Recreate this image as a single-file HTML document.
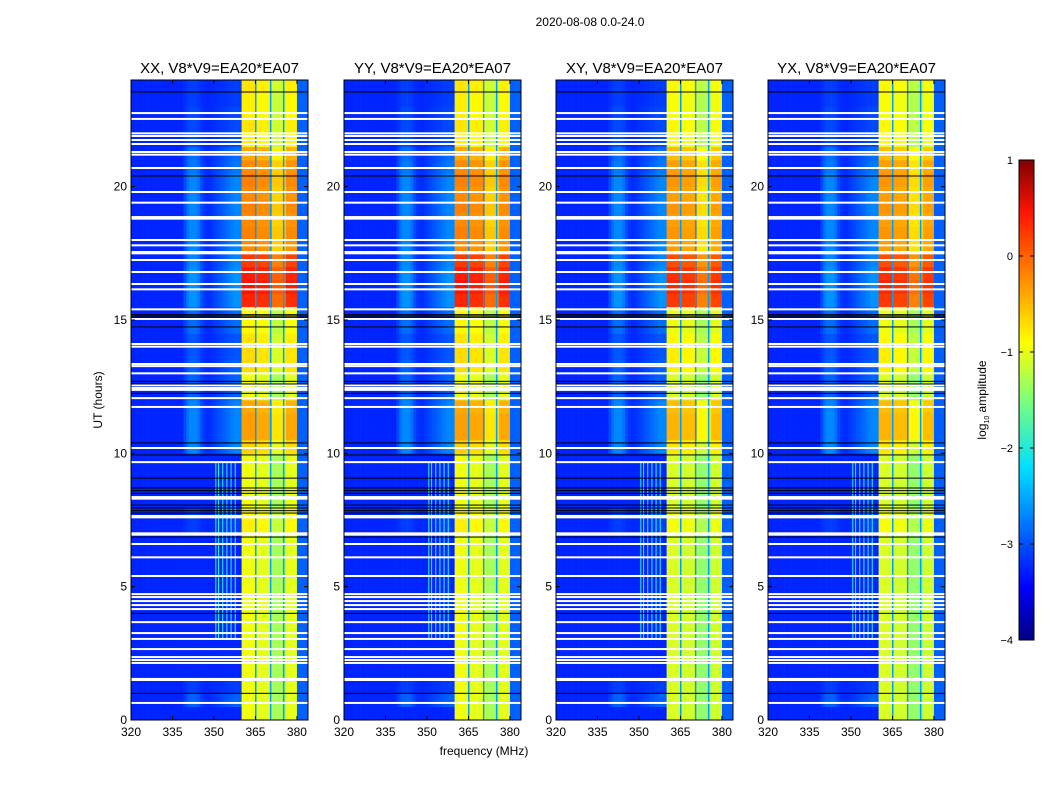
<!DOCTYPE html>
<html><head><meta charset="utf-8">
<style>
body{margin:0;background:#fff;}
svg text{font-family:"Liberation Sans",sans-serif;fill:#000;}
</style></head>
<body>
<svg id="fig" width="1050" height="800" xmlns="http://www.w3.org/2000/svg">
<defs>
<linearGradient id="jet" x1="0" y1="1" x2="0" y2="0">
<stop offset="0" stop-color="#000080"/><stop offset="0.11" stop-color="#0000ff"/>
<stop offset="0.36" stop-color="#00e0ff"/><stop offset="0.5" stop-color="#7dff7a"/>
<stop offset="0.62" stop-color="#ffff00"/><stop offset="0.89" stop-color="#ff1400"/>
<stop offset="1" stop-color="#800000"/>
</linearGradient>
</defs>
<text x="590" y="26" font-size="12" text-anchor="middle">2020-08-08 0.0-24.0</text>
<text x="484" y="755" font-size="12" text-anchor="middle">frequency (MHz)</text>
<text transform="translate(102,400) rotate(-90)" font-size="12" text-anchor="middle">UT (hours)</text>
<g id="panels"></g>
<g>
<rect x="1019" y="160" width="15" height="480" fill="url(#jet)" stroke="#000" stroke-width="1"/>
<g id="cbticks"></g>
<text transform="translate(986,400) rotate(-90)" font-size="12" text-anchor="middle">log<tspan font-size="7" dy="3">10</tspan><tspan dy="-3"> amplitude</tspan></text>
</g>
</svg>
<script>
// ---- data ----
const panelTitles=["XX, V8*V9=EA20*EA07","YY, V8*V9=EA20*EA07","XY, V8*V9=EA20*EA07","YX, V8*V9=EA20*EA07"];
const xTicks=[320,335,350,365,380];
const yTicks=[0,5,10,15,20];
const cbTicks=[1,0,-1,-2,-3,-4];
const freqStart=320, freqStep=1, nFreq=64;
const hourStep=0.5;
const bandRow=[-1.0,-1.0,-1.0,-1.0,-1.0,-1.0,-1.0,-1.0,-1.0,-1.0,-1.0,-1.0,-1.0,-1.0,-0.85,-0.9,-1.0,-1.0,-1.0,-1.0,
 -0.7,-0.45,-0.45,-0.5,-1.0,-1.0,-0.75,-0.75,-0.8,-0.9,-0.9,0.15,0.25,0.2,0.05,-0.35,-0.3,-0.35,-0.3,-0.35,-0.3,-0.35,-0.5,-0.85,-0.8,-0.85,-0.85,-0.8];
const bgRow=[0,0.5,0.2,0,0,0,0,0,0,0,0,0,0,0,0.2,0.2,0,0,0,0,0.8,0.8,0.8,0.8,0.5,0.5,0.5,0.4,0.4,0.6,0.6,0.9,0.9,0.9,0.8,0.8,0.8,0.8,0.8,0.8,0.8,0.7,0.6,0.3,0.3,0.3,0.2,0.2];
// offsets for 360..383 MHz channels (380+ is background)
const bandOffset=[0.05,0.05,0.05,0.05,0.05,0,0,0,0,0,0,-0.3,-0.3,-0.3,-0.3,-0.3,0,0,0,0,-2.2,-2.2,-2.2,-2.2];
const bandGapFreqs=[365.1,370.5,375.2];
const bandGapLevel=-2.6;
const bgBump=[0,0,0,0,0,0,0,0,0,0,0,0,0,0,0,0,0,0,0,0.4,0.8,1,1,1,0.8,0.4,0.2,0.1,0.1,0.2,0.3,0.4,0.5,0.6,0.7,0.8,0.9,1,1,1];
const bgLevel=-3.2, bgGain=0.6;
const spurFreqs=[350.5,351.5,353,354.5,356,357.5];
const spurLevel=-1.9, spurFrom=3, spurTo=9.7;
const whiteFlags=[0.64,1.54,1.5,2.14,2.25,2.36,2.66,3.04,3.26,3.67,4.16,4.31,4.46,4.61,4.72,5.4,6.1,6.6,7.0,6.95,7.65,7.6,8.36,8.3,9.67,10.2,11.74,12.07,12.38,12.45,12.55,13.0,13.27,13.35,14.0,14.1,15.04,15.4,16.15,16.35,16.8,17.25,17.5,17.55,17.8,18.0,18.8,18.86,19.4,19.8,20.7,21.2,21.3,21.6,21.75,21.9,22.0,22.54,22.76];
const blackFlags=[1.0,4.0,6.86,7.76,7.85,7.95,8.06,8.5,8.6,8.7,9.07,9.94,10.39,12.25,12.6,12.7,14.74,15.1,15.15,15.2,20.4,23.55];
// ---- layout ----
const panelX=[131,344,556,768], pw=177, yTop=80, yBot=720;
const fMin=320,fMax=384,hMax=24;
const NS="http://www.w3.org/2000/svg";
function jet(v){let t=(v+4)/5;t=Math.max(0,Math.min(1,t));
 const r=Math.max(0,Math.min(1,1.5-Math.abs(4*t-3))),g=Math.max(0,Math.min(1,1.5-Math.abs(4*t-2))),b=Math.max(0,Math.min(1,1.5-Math.abs(4*t-1)));
 return `rgb(${Math.round(r*255)},${Math.round(g*255)},${Math.round(b*255)})`;}
function mk(tag,attrs,parent){const e=document.createElementNS(NS,tag);for(const k in attrs)e.setAttribute(k,attrs[k]);parent.appendChild(e);return e;}
const root=document.getElementById('panels');
panelTitles.forEach((title,p)=>{
 const x0=panelX[p];
 const xs=f=>x0+(f-fMin)/(fMax-fMin)*pw;
 const ys=h=>yBot-h/hMax*(yBot-yTop);
 const g=mk('g',{},root);
 
 
 for(let t=0;t<bandRow.length;t++){
  for(let i=0;i<nFreq;i++){
   const f=freqStart+i*freqStep;
   let v;
   if(f>=380) v=bgLevel+0.3;
   else if(f>=360) v=bandRow[t]+bandOffset[i-40]-(p>=2?0.1:0);
   else v=bgLevel+bgRow[t]*bgGain*(bgBump[i]||0);
   const c=mk('rect',{x:xs(f).toFixed(2),y:ys((t+1)*hourStep).toFixed(2),width:(xs(f+freqStep)-xs(f)+0.3).toFixed(2),height:(ys(0)-ys(hourStep)+0.3).toFixed(2),fill:jet(v)},g);
   
   
  }
 }
 bandGapFreqs.forEach(f=>{const s=mk('rect',{x:xs(f)-0.75,y:yTop,width:1.5,height:yBot-yTop,fill:jet(bandGapLevel)},g);
  
  });
 spurFreqs.forEach(f=>{const s=mk('rect',{x:xs(f),y:ys(spurTo),width:1,height:ys(spurFrom)-ys(spurTo),fill:jet(spurLevel)},g);
  
  });
 whiteFlags.forEach(h=>{const l=mk('rect',{x:x0,y:ys(h)-1,width:pw,height:2,fill:'#fff'},g);
  
  });
 blackFlags.forEach(h=>{const l=mk('rect',{x:x0,y:ys(h)-0.5,width:pw,height:1,fill:'#000'},g);
  
  });
 const fr=mk('rect',{x:x0,y:yTop,width:pw,height:yBot-yTop,fill:'none',stroke:'#000','stroke-width':1},g);
 
 
 const tt=mk('text',{x:x0+pw/2,y:yTop-7,'font-size':15,'text-anchor':'middle'},g);tt.textContent=title;
 
 
 xTicks.forEach(f=>{const x=xs(f);
  mk('line',{x1:x,x2:x,y1:yBot,y2:yBot-4,stroke:'#000'},g);mk('line',{x1:x,x2:x,y1:yTop,y2:yTop+4,stroke:'#000'},g);
  const lb=mk('text',{x:x,y:yBot+16,'font-size':12,'text-anchor':'middle'},g);lb.textContent=f;
  
  });
 yTicks.forEach(h=>{const y=ys(h);
  mk('line',{x1:x0,x2:x0+4,y1:y,y2:y,stroke:'#000'},g);mk('line',{x1:x0+pw,x2:x0+pw-4,y1:y,y2:y,stroke:'#000'},g);
  const lb=mk('text',{x:x0-4,y:y+4,'font-size':12,'text-anchor':'end'},g);lb.textContent=h;
  
  });
});
const cb=document.getElementById('cbticks');
cbTicks.forEach(v=>{const y=640-(v+4)/5*480;
 mk('line',{x1:1019,x2:1023,y1:y,y2:y,stroke:'#000'},cb);mk('line',{x1:1034,x2:1030,y1:y,y2:y,stroke:'#000'},cb);
 const lb=mk('text',{x:1013,y:y+4,'font-size':11,'text-anchor':'end'},cb);lb.textContent=v<0?'\u2212'+(-v):v;
 
 });
</script>
</body></html>
